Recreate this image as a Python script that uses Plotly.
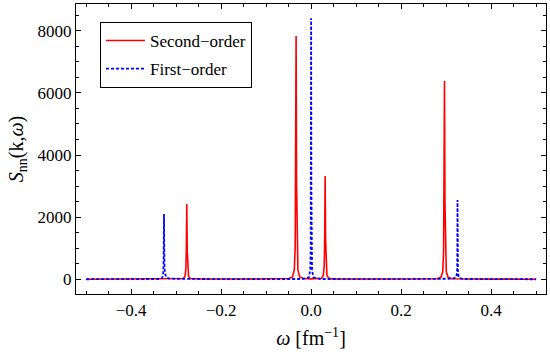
import plotly.graph_objects as go

# Second-order (red, solid)
red_omega = [-0.5, -0.4, -0.3, -0.2844, -0.2804, -0.2784, -0.2774, -0.2769, -0.2764, -0.2759,
             -0.2754, -0.2744, -0.2724, -0.2684, -0.25, -0.15, -0.06, -0.0494, -0.0414, -0.0374,
             -0.0354, -0.0344, -0.0339, -0.0334, -0.0329, -0.0324, -0.0314, -0.0294, -0.0254,
             -0.0174, 0.0, 0.0151, 0.0231, 0.0271, 0.0291, 0.0301, 0.0306, 0.0311, 0.0316,
             0.0321, 0.0331, 0.0351, 0.0391, 0.0471, 0.15, 0.25, 0.2804, 0.2884, 0.2924,
             0.2944, 0.2954, 0.2959, 0.2964, 0.2969, 0.2974, 0.2984, 0.3004, 0.3044, 0.3124,
             0.4, 0.5]
red_S = [4, 6, 12, 24, 92, 334, 940, 1740, 2420, 1740,
         940, 334, 92, 24, 10, 8, 12, 25, 78, 300,
         1080, 3050, 5640, 7830, 5640, 3050, 1080, 300, 78,
         25, 14, 20, 33, 126, 460, 1300, 2390, 3320, 2390,
         1300, 460, 126, 33, 15, 10, 12, 20, 63, 242,
         880, 2490, 4590, 6380, 4590, 2490, 880, 242, 63, 20,
         6, 4]

# First-order (blue, dotted)
blue_omega = [-0.5, -0.4, -0.34, -0.331, -0.329, -0.328, -0.3275, -0.327, -0.3265, -0.326,
              -0.325, -0.322, -0.315, -0.2, -0.02, -0.005, -0.002, -0.001, -0.0005, 0.0,
              0.0005, 0.001, 0.002, 0.005, 0.02, 0.2, 0.315, 0.322, 0.3243, 0.3248, 0.3253,
              0.3258, 0.3263, 0.3285, 0.336, 0.4, 0.5]
blue_S = [2, 4, 10, 40, 150, 500, 1200, 2100, 1200, 500,
          200, 60, 20, 5, 10, 60, 300, 1000, 3000, 8400,
          3000, 1000, 300, 60, 10, 5, 20, 60, 200, 600, 2550,
          600, 200, 50, 12, 4, 2]

x_ticks = [-0.4, -0.2, 0.0, 0.2, 0.4]
x_ticktext = ["\u22120.4", "\u22120.2", "0.0", "0.2", "0.4"]
y_ticks = [0, 2000, 4000, 6000, 8000]

font_family = "Times New Roman, Liberation Serif, serif"

fig = go.Figure()
fig.add_trace(go.Scatter(x=red_omega, y=red_S, mode="lines", name="Second\u2212order",
                         line=dict(color="#FF0000", width=1.6), legendgroup="a"))
fig.add_trace(go.Scatter(x=blue_omega, y=blue_S, mode="lines", name="First\u2212order",
                         line=dict(color="#0000FF", width=1.8, dash="3px,2px"), legendgroup="b"))

axis_common = dict(
    showline=True, linecolor="black", linewidth=1.3, mirror="ticks",
    ticks="inside", ticklen=5, tickwidth=1, tickcolor="black",
    showgrid=False, zeroline=False, automargin=False,
    tickfont=dict(family=font_family, size=17, color="black"),
)

fig.update_xaxes(
    range=[-0.5226, 0.522], tickvals=x_ticks, ticktext=x_ticktext,
    minor=dict(dtick=0.05, tick0=0, ticks="inside", ticklen=3, tickcolor="black", showgrid=False),
    title=dict(text="<i>\u03c9</i> [fm<sup>\u22121</sup>]",
               font=dict(family=font_family, size=20, color="black"), standoff=12),
    **axis_common,
)
fig.update_yaxes(
    range=[-473, 8859], tickvals=y_ticks,
    minor=dict(dtick=500, tick0=0, ticks="inside", ticklen=3, tickcolor="black", showgrid=False),
    title=dict(text="<i>S</i><sub>nn</sub>(k,<i>\u03c9</i>)",
               font=dict(family=font_family, size=20, color="black"), standoff=8),
    **axis_common,
)

fig.update_layout(
    width=550, height=354,
    margin=dict(l=76, r=4, t=4, b=60),
    paper_bgcolor="white", plot_bgcolor="white",
    showlegend=True,
    legend=dict(x=0.051, y=0.938, xanchor="left", yanchor="top",
                bordercolor="black", borderwidth=1, bgcolor="white",
                font=dict(family=font_family, size=17, color="black"),
                itemwidth=39,
                traceorder="grouped", tracegroupgap=3),
)

fig.write_html("out.html", config={"displayModeBar": False},
               post_script="document.body.style.margin='0';")
